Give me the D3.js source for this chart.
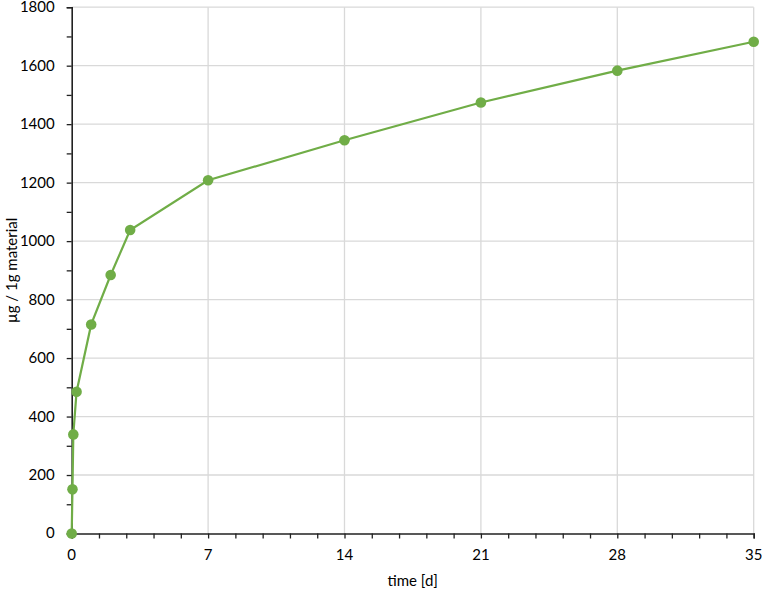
<!DOCTYPE html>
<html>
<head>
<meta charset="utf-8">
<script src="https://cdn.jsdelivr.net/npm/d3@7"></script>
<style>
  body { margin: 0; background: #fff; }
  text { font-family: Lato, "Open Sans", sans-serif; fill: #000; }
</style>
</head>
<body>
<svg width="762" height="590"></svg>
<script>
// release over time
var days = [0, 0.04, 0.083, 0.25, 1, 2, 3, 7, 14, 21, 28, 35];
var amount = [0, 151, 339, 485, 715, 884, 1038, 1208, 1345, 1474, 1583, 1682];
var xTicks = [0, 7, 14, 21, 28, 35];
var yTicks = [0, 200, 400, 600, 800, 1000, 1200, 1400, 1600, 1800];

var svg = d3.select("svg");
var margin = {left: 71.7, right: 8.3, top: 7.2, bottom: 56.5};
var width = 762 - margin.left - margin.right,
    height = 590 - margin.top - margin.bottom;

var x = d3.scaleLinear().domain([0, 35]).range([0, width]);
var y = d3.scaleLinear().domain([0, 1800]).range([height, 0]);

var g = svg.append("g")
    .attr("transform", "translate(" + margin.left + "," + margin.top + ")");

// grid
g.selectAll(".hgrid")
  .data(yTicks.slice(1))
.enter().append("line")
  .attr("x1", 0).attr("x2", width)
  .attr("y1", function(d) { return y(d); })
  .attr("y2", function(d) { return y(d); })
  .attr("stroke", "#d9d9d9").attr("stroke-width", 1.3);

g.selectAll(".vgrid")
  .data(xTicks.slice(1))
.enter().append("line")
  .attr("y1", 0).attr("y2", height)
  .attr("x1", function(d) { return x(d); })
  .attr("x2", function(d) { return x(d); })
  .attr("stroke", "#d9d9d9").attr("stroke-width", 1.3);

// minor ticks
var xMinor = d3.range(0, 26).map(function(i) { return i * 1.4; });
var yMinor = d3.range(0, 19).map(function(i) { return i * 100; });

var xAxis = g.append("g")
    .attr("transform", "translate(0," + height + ")")
    .call(d3.axisBottom(x).tickValues(xMinor).tickSize(5).tickFormat(""));
xAxis.select(".domain").attr("stroke", "#222").attr("stroke-width", 1.6);
xAxis.selectAll(".tick line").attr("stroke", "#222").attr("stroke-width", 1.3);

g.selectAll(".xlab")
  .data(xTicks)
.enter().append("text")
  .attr("x", function(d) { return x(d); })
  .attr("y", height + 27)
  .attr("text-anchor", "middle")
  .style("font-size", "15px")
  .text(function(d) { return d; });

var yAxis = g.append("g")
    .call(d3.axisLeft(y).tickValues(yMinor).tickSize(5).tickFormat(""));
yAxis.select(".domain").attr("stroke", "#222").attr("stroke-width", 1.6);
yAxis.selectAll(".tick line").attr("stroke", "#222").attr("stroke-width", 1.3);

g.selectAll(".ylab")
  .data(yTicks)
.enter().append("text")
  .attr("x", -17)
  .attr("y", function(d) { return y(d) + 5; })
  .attr("text-anchor", "end")
  .style("font-size", "15px")
  .text(function(d) { return d; });

// axis titles
svg.append("text")
  .attr("x", margin.left + width / 2)
  .attr("y", 586)
  .attr("text-anchor", "middle")
  .style("font-size", "15px")
  .text("time [d]");

svg.append("text")
  .attr("transform", "translate(17," + (margin.top + height / 2) + ") rotate(-90)")
  .attr("text-anchor", "middle")
  .style("font-size", "15px")
  .text("µg / 1g material");

// series
var pts = days.map(function(d, i) { return [d, amount[i]]; });

var line = d3.line()
  .x(function(d) { return x(d[0]); })
  .y(function(d) { return y(d[1]); });

g.append("path")
  .datum(pts)
  .attr("d", line)
  .attr("fill", "none")
  .attr("stroke", "#70ad47")
  .attr("stroke-width", 2.2);

g.selectAll(".dot")
  .data(pts)
.enter().append("circle")
  .attr("cx", function(d) { return x(d[0]); })
  .attr("cy", function(d) { return y(d[1]); })
  .attr("r", 5.3)
  .attr("fill", "#70ad47");
</script>
</body>
</html>
